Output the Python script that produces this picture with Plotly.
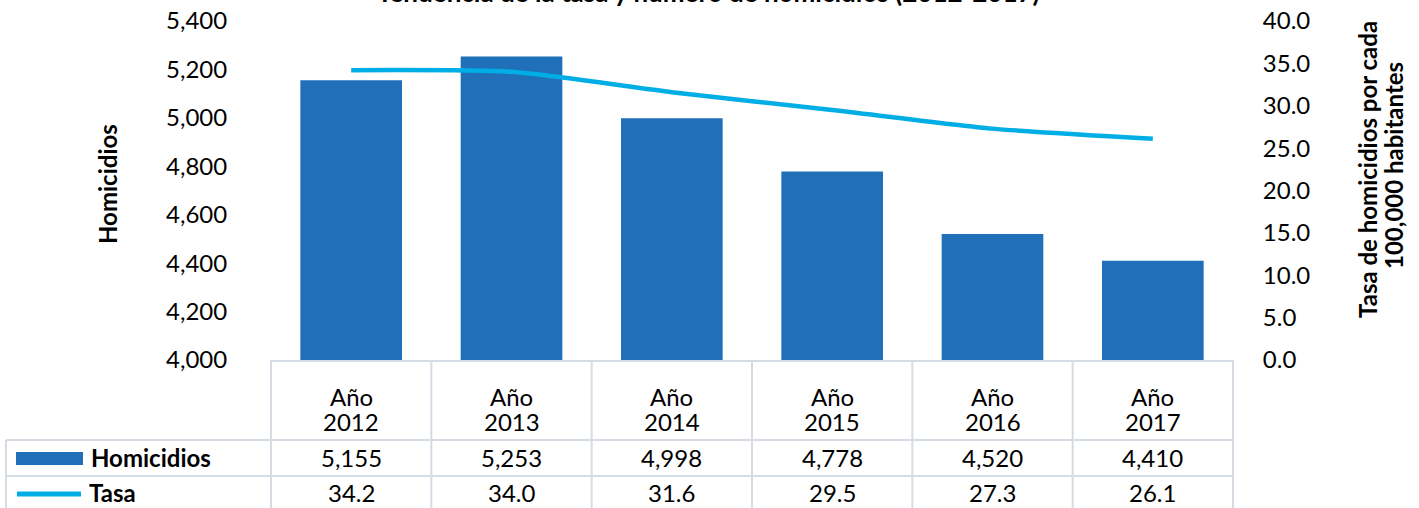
import plotly.graph_objects as go

years = ["Año 2012", "Año 2013", "Año 2014", "Año 2015", "Año 2016", "Año 2017"]
header_top = ["Año", "Año", "Año", "Año", "Año", "Año"]
header_bottom = ["2012", "2013", "2014", "2015", "2016", "2017"]
homicidios = [5155, 5253, 4998, 4778, 4520, 4410]
tasa = [34.2, 34.0, 31.6, 29.5, 27.3, 26.1]
left_ticks = [4000, 4200, 4400, 4600, 4800, 5000, 5200, 5400]
right_ticks = [0, 5, 10, 15, 20, 25, 30, 35, 40]

BAR_C = "#1F70B8"
LINE_C = "#00AEE6"
GRID_C = "#D5DCE4"
FONT = "Lato"
FS = 24

W, H = 1419, 508
L, R, T, B = 270, 1234, 21, 360
PW, PH = R - L, B - T

def px(x):
    return (x - L) / PW

def py(y):
    return (B - y) / PH

fig = go.Figure()
fig.add_trace(go.Bar(x=years, y=homicidios, marker=dict(color=BAR_C, line=dict(width=0)),
                     name="Homicidios", showlegend=False))
fig.add_trace(go.Scatter(x=years, y=tasa, yaxis="y2", mode="lines", name="Tasa",
                         line=dict(color=LINE_C, width=4.5, shape="spline", smoothing=0.6),
                         showlegend=False))

shapes = []
ann = []
n = len(years)
# horizontal table lines
shapes.append(dict(type="line", xref="paper", yref="paper", x0=0, x1=1, y0=py(361), y1=py(361),
                   line=dict(color=GRID_C, width=2)))
for yy in (440, 476):
    shapes.append(dict(type="line", xref="paper", yref="paper", x0=px(6), x1=1, y0=py(yy), y1=py(yy),
                       line=dict(color=GRID_C, width=2)))
# vertical lines
for k in range(n + 1):
    shapes.append(dict(type="line", xref="x", yref="paper", x0=k - 0.5, x1=k - 0.5,
                       y0=py(361), y1=py(520), line=dict(color=GRID_C, width=2)))
shapes.append(dict(type="line", xref="paper", yref="paper", x0=px(6), x1=px(6),
                   y0=py(440), y1=py(520), line=dict(color=GRID_C, width=2)))
# legend swatches
shapes.append(dict(type="rect", xref="paper", yref="paper", x0=px(16), x1=px(83),
                   y0=py(465), y1=py(452), fillcolor=BAR_C, line=dict(width=0)))
shapes.append(dict(type="line", xref="paper", yref="paper", x0=px(17), x1=px(81),
                   y0=py(494), y1=py(494), line=dict(color=LINE_C, width=5)))

txt = dict(family=FONT, size=FS, color="#000")
for i in range(n):
    ann.append(dict(x=years[i], xref="x", y=py(396), yref="paper", text=header_top[i], showarrow=False,
                    font=txt, yanchor="middle", xanchor="center"))
    ann.append(dict(x=years[i], xref="x", y=py(422), yref="paper", text=header_bottom[i], showarrow=False,
                    font=txt, yanchor="middle", xanchor="center"))
    ann.append(dict(x=years[i], xref="x", y=py(457), yref="paper", text=f"{homicidios[i]:,}",
                    showarrow=False, font=txt, yanchor="middle", xanchor="center"))
    ann.append(dict(x=years[i], xref="x", y=py(492), yref="paper", text=f"{tasa[i]:.1f}",
                    showarrow=False, font=txt, yanchor="middle", xanchor="center"))

ann.append(dict(x=px(89), y=py(457), xref="paper", yref="paper", text="<b>Homicidios</b>",
                showarrow=False, xanchor="left", yanchor="middle", font=txt))
ann.append(dict(x=px(87), y=py(492), xref="paper", yref="paper", text="<b>Tasa</b>",
                showarrow=False, xanchor="left", yanchor="middle", font=txt))
# axis titles
ann.append(dict(x=px(107), y=py(184), xref="paper", yref="paper", text="<b>Homicidios</b>",
                textangle=-90, showarrow=False, xanchor="center", yanchor="middle", font=txt))
ann.append(dict(x=px(1367), y=py(170), xref="paper", yref="paper",
                text="<b>Tasa de homicidios por cada</b>",
                textangle=-90, showarrow=False, xanchor="center", yanchor="middle", font=txt))
ann.append(dict(x=px(1393), y=py(166), xref="paper", yref="paper",
                text="<b>100,000 habitantes</b>",
                textangle=-90, showarrow=False, xanchor="center", yanchor="middle", font=txt))
# title (partly cut off at top)
ann.append(dict(x=px(708), y=py(-8.5), xref="paper", yref="paper",
                text="<b>Tendencia de la tasa y número de homicidios (2012-2017)</b>",
                showarrow=False, xanchor="center", yanchor="middle",
                font=dict(family=FONT, size=26, color="#000")))

fig.update_layout(
    width=W, height=H,
    margin=dict(l=L, r=W - R, t=T, b=H - B, pad=0, autoexpand=False),
    paper_bgcolor="white", plot_bgcolor="white",
    bargap=0.366,
    xaxis=dict(showticklabels=False, showgrid=False, zeroline=False, showline=False, ticks="",
               automargin=False),
    yaxis=dict(range=[4000, 5400], tickvals=left_ticks, tickformat=",d", showgrid=False,
               zeroline=False, showline=False, ticks="outside", ticklen=37, automargin=False,
               tickcolor="rgba(0,0,0,0)", tickfont=txt),
    yaxis2=dict(range=[0, 40], tickvals=right_ticks, tickformat=".1f", overlaying="y", side="right",
                showgrid=False, zeroline=False, showline=False, ticks="outside", ticklen=23,
                automargin=False, tickcolor="rgba(0,0,0,0)", tickfont=txt),
    shapes=shapes, annotations=ann, showlegend=False,
)
fig.write_html("out.html", config={"displayModeBar": False},
               post_script="document.body.style.margin='0';document.body.style.overflow='hidden';")
